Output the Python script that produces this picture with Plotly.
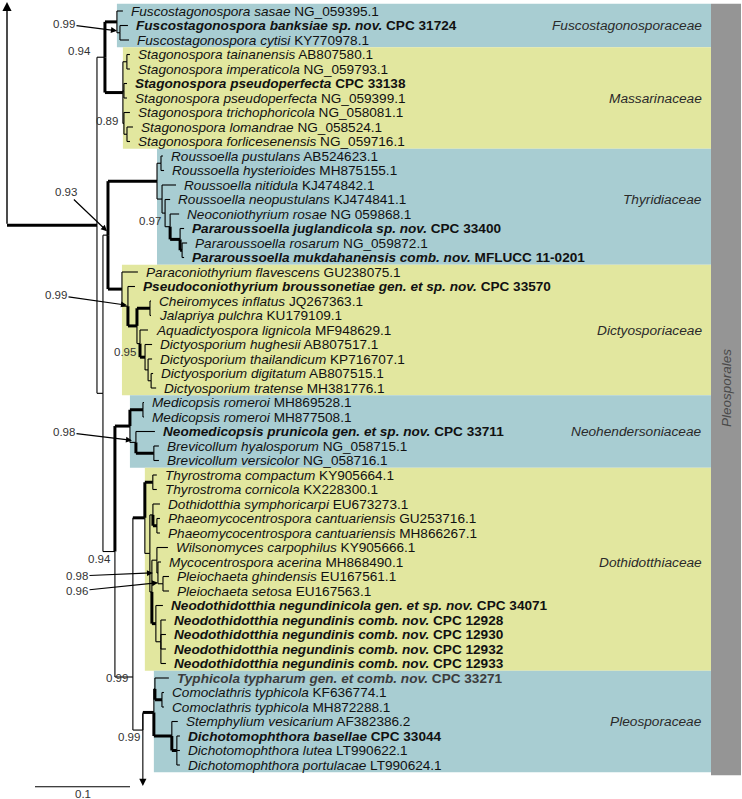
import re
import plotly.graph_objects as go

# ---------------- data ----------------
taxa_names = [
    "Fuscostagonospora sasae", "Fuscostagonospora banksiae sp. nov.", "Fuscostagonospora cytisi",
    "Stagonospora tainanensis", "Stagonospora imperaticola", "Stagonospora pseudoperfecta",
    "Stagonospora pseudoperfecta", "Stagonospora trichophoricola", "Stagonospora lomandrae",
    "Stagonospora forlicesenensis", "Roussoella pustulans", "Roussoella hysterioides",
    "Roussoella nitidula", "Roussoella neopustulans", "Neoconiothyrium rosae",
    "Pararoussoella juglandicola sp. nov.", "Pararoussoella rosarum",
    "Pararoussoella mukdahanensis comb. nov.", "Paraconiothyrium flavescens",
    "Pseudoconiothyrium broussonetiae gen. et sp. nov.", "Cheiromyces inflatus",
    "Jalapriya pulchra", "Aquadictyospora lignicola", "Dictyosporium hughesii",
    "Dictyosporium thailandicum", "Dictyosporium digitatum", "Dictyosporium tratense",
    "Medicopsis romeroi", "Medicopsis romeroi", "Neomedicopsis prunicola gen. et sp. nov.",
    "Brevicollum hyalosporum", "Brevicollum versicolor", "Thyrostroma compactum",
    "Thyrostroma cornicola", "Dothidotthia symphoricarpi", "Phaeomycocentrospora cantuariensis",
    "Phaeomycocentrospora cantuariensis", "Wilsonomyces carpophilus", "Mycocentrospora acerina",
    "Pleiochaeta ghindensis", "Pleiochaeta setosa",
    "Neodothidotthia negundinicola gen. et sp. nov.", "Neodothidotthia negundinis comb. nov.",
    "Neodothidotthia negundinis comb. nov.", "Neodothidotthia negundinis comb. nov.",
    "Neodothidotthia negundinis comb. nov.", "Typhicola typharum gen. et comb. nov.",
    "Comoclathris typhicola", "Comoclathris typhicola", "Stemphylium vesicarium",
    "Dichotomophthora basellae", "Dichotomophthora lutea", "Dichotomophthora portulacae",
]
taxa_accessions = [
    "NG_059395.1", "CPC 31724", "KY770978.1", "AB807580.1", "NG_059793.1", "CPC 33138",
    "NG_059399.1", "NG_058081.1", "NG_058524.1", "NG_059716.1", "AB524623.1", "MH875155.1",
    "KJ474842.1", "KJ474841.1", "NG 059868.1", "CPC 33400", "NG_059872.1", "MFLUCC 11-0201",
    "GU238075.1", "CPC 33570", "JQ267363.1", "KU179109.1", "MF948629.1", "AB807517.1",
    "KP716707.1", "AB807515.1", "MH381776.1", "MH869528.1", "MH877508.1", "CPC 33711",
    "NG_058715.1", "NG_058716.1", "KY905664.1", "KX228300.1", "EU673273.1", "GU253716.1",
    "MH866267.1", "KY905666.1", "MH868490.1", "EU167561.1", "EU167563.1", "CPC 34071",
    "CPC 12928", "CPC 12930", "CPC 12932", "CPC 12933", "CPC 33271", "KF636774.1",
    "MH872288.1", "AF382386.2", "CPC 33044", "LT990622.1", "LT990624.1",
]
novel_rows = [1, 5, 15, 17, 19, 29, 41, 42, 43, 44, 45, 46, 50]

# tree (Newick; tips tN = row N, branch lengths in substitutions/site)
newick = """
(
 (
  (t0:0.0063,(t1:0.0084,t2:0.0095)F1:0.0032)F0:0.0126,
  ((t3:0.0032,t4:0.0032)SA:0.0042,(t5:0.0032,t6:0.0032)SB:0.0011,
   (t7:0.0063,(t8:0.0063,t9:0.0032)SD:0.0032)SC:0.0011)S0:0.0189
 )FS:0.0084,
 (
  (
   ((t10:0.0021,t11:0.0032)TA:0.0042,
    (t12:0.0147,(t13:0.0053,(t14:0.0095,(t15:0.0042,(t16:0.0053,t17:0.0021)T5:0.0021)T4:0.0105)T3:0.0053)T2:0.0032)T1:0.0053
   )T0:0.0516,
   (t18:0.0168,(t19:0.0074,((t20:0.0011,t21:0.0011)DC:0.0137,
     (t22:0.0084,(t23:0.0074,(t24:0.0042,(t25:0.0021,t26:0.0053)D6:0.0032)D5:0.0032)D4:0.0053)D3:0.0032
    )D2:0.0095)D1:0.0063)D0:0.0147
  )N3:0.0053,
  (
   ((t27:0.0011,t28:0.0011)EM:0.0137,(t29:0.0200,(t30:0.0053,t31:0.0053)EB:0.0189)E1:0.0063)E0:0.0158,
   (
    ((t32:0.0042,t33:0.0042)GT:0.0084,
     ((t34:0.0074,(t35:0.0032,t36:0.0032)GP:0.0042)GD:0.0032,
      ((t37:0.0116,(t38:0.0032,(t39:0.0063,t40:0.0063)WP:0.0053)W1:0.0011)W0:0.0053,
       (t41:0.0074,(t42:0.0053,t43:0.0053,t44:0.0053,t45:0.0053)Nb:0.0053)Na:0.0042)H:0.0021
     )Gb:0.0053
    )G0:0.0126,
    (((t46:0.0147,(t47:0.0021,t48:0.0021)PC:0.0074)Pla:0.0011,
      (t49:0.0063,(t50:0.0032,t51:0.0032,t52:0.0032)PD:0.0053)Plb:0.0189)Pl0:0.0116)P:0.0105
   )Q:0.0189
  )N4:0.0126
 )N2:0.0063
)N1:0.0947;
"""

supports = {"FS": "0.94", "F1": "0.99", "SC": "0.89", "T2": "0.97", "N3": "0.93",
            "D1": "0.99", "D3": "0.95", "E1": "0.98", "N4": "0.94", "W1": "0.98",
            "WP": "0.96", "Q": "0.99", "P": "0.99"}
thick_nodes = ["F0", "S0", "T0", "T4", "T5", "D0", "D2", "DC", "D4", "E0", "EM", "EB",
               "G0", "GT", "GP", "Na", "Pl0", "PC", "Plb", "PD"]
node_row_override = {"Q": 45.93, "P": 49.59}

families = [  # name, first row, last row, clade node, label row, colour
    ("Fuscostagonosporaceae", 0, 2, "F0", 1, "blue"),
    ("Massarinaceae", 3, 9, "S0", 6, "yellow"),
    ("Thyridiaceae", 10, 17, "T0", 13, "blue"),
    ("Dictyosporiaceae", 18, 26, "D0", 22, "yellow"),
    ("Neohendersoniaceae", 27, 31, "E0", 29, "blue"),
    ("Dothidotthiaceae", 32, 45, "G0", 38, "yellow"),
    ("Pleosporaceae", 46, 52, "Pl0", 49, "blue"),
]
order_name = "Pleosporales"
scale_length = 0.1

# ---------------- layout helpers ----------------
W, H = 742, 799
PX_PER_UNIT = 950.0
PX_PER_ROW = 14.5
X0_PX, Y0_PX = 7.0, 11.0
def px2x(px): return (px - X0_PX) / PX_PER_UNIT
def px2r(py): return (py - Y0_PX) / PX_PER_ROW
dxp = 1.0 / PX_PER_UNIT
dyp = 1.0 / PX_PER_ROW

BLUE = "#a8cdd2"
YELLOW = "#e2e79f"
GREY = "#959595"
FONT = "Liberation Sans, Arial, sans-serif"
THIN, THICK = 1.1, 3.0

# ---------------- parse tree ----------------
def parse_newick(s):
    s = re.sub(r"\s+", "", s).rstrip(";")
    pos = 0
    def node():
        nonlocal pos
        n = {"children": [], "name": "", "bl": 0.0}
        if s[pos] == "(":
            pos += 1
            while True:
                n["children"].append(node())
                if s[pos] == ",":
                    pos += 1
                    continue
                pos += 1
                break
        m = re.match(r"[^:,();]*", s[pos:])
        n["name"] = m.group(0)
        pos += len(m.group(0))
        if pos < len(s) and s[pos] == ":":
            pos += 1
            m = re.match(r"[0-9.eE+-]+", s[pos:])
            n["bl"] = float(m.group(0))
            pos += len(m.group(0))
        return n
    return node()

root = parse_newick(newick)
nodes = {}
def layout(n, px):
    n["x"] = px + n["bl"]
    for c in n["children"]:
        layout(c, n["x"])
    if n["children"]:
        if n["name"] in node_row_override:
            n["y"] = node_row_override[n["name"]]
        else:
            n["y"] = (n["children"][0]["y"] + n["children"][-1]["y"]) / 2
    else:
        n["y"] = int(n["name"][1:])
    nodes[n["name"]] = n
layout(root, 0.0)

segs = {THIN: ([], []), THICK: ([], [])}
def add(w, xs, ys):
    segs[w][0].extend(xs + [None])
    segs[w][1].extend(ys + [None])
def draw(n):
    for c in n["children"]:
        w = THICK if c["name"] in thick_nodes else THIN
        wv = THIN if n["name"] in node_row_override else w
        add(wv, [n["x"], n["x"]], [n["y"], c["y"]])
        add(w, [n["x"], c["x"]], [c["y"], c["y"]])
        draw(c)
add(THICK, [0.0, root["x"]], [root["y"], root["y"]])
draw(root)

fig = go.Figure()
for w, (xs, ys) in segs.items():
    fig.add_trace(go.Scatter(x=xs, y=ys, mode="lines", line=dict(color="black", width=w),
                             hoverinfo="skip", showlegend=False))

# scale bar
sb_x0 = px2x(35)
fig.add_trace(go.Scatter(x=[sb_x0, sb_x0 + scale_length], y=[53.5, 53.5], mode="lines",
                         line=dict(color="black", width=1.1), hoverinfo="skip", showlegend=False))

shapes = []
annotations = []
box_right = px2x(711)
bar_right = px2x(741)
for name, r0, r1, node_name, lab_row, col in families:
    shapes.append(dict(type="rect", xref="x", yref="y", x0=nodes[node_name]["x"], x1=box_right,
                       y0=r0 - 0.5, y1=r1 + 0.5, fillcolor=BLUE if col == "blue" else YELLOW,
                       line=dict(width=0), layer="below"))
    annotations.append(dict(x=px2x(704), y=lab_row, xref="x", yref="y", text=f"<i>{name}</i>",
                            showarrow=False, xanchor="right", yanchor="middle",
                            font=dict(family=FONT, size=13.7, color="#2a2a2a")))
shapes.append(dict(type="rect", xref="x", yref="y", x0=box_right, x1=bar_right,
                   y0=families[0][1] - 0.5, y1=families[-1][2] + 0.7, fillcolor=GREY,
                   line=dict(width=0), layer="below"))
annotations.append(dict(x=(box_right + bar_right) / 2, y=(families[0][1] + families[-1][2]) / 2,
                        xref="x", yref="y", text=f"<i>{order_name}</i>", textangle=-90,
                        showarrow=False, font=dict(family=FONT, size=13.5, color="#4a4a4a")))

# tip labels
for i, (nm, acc) in enumerate(zip(taxa_names, taxa_accessions)):
    tip = nodes[f"t{i}"]
    if i in novel_rows:
        txt = f"<b><i>{nm}</i> {acc}</b>"
    else:
        txt = f"<i>{nm}</i> {acc}"
    col = "#3c3c3c" if nm.startswith("Typhicola") else "#111111"
    annotations.append(dict(x=tip["x"] + 7 * dxp, y=tip["y"], xref="x", yref="y", text=txt,
                            showarrow=False, xanchor="left", yanchor="middle", borderpad=0,
                            font=dict(family=FONT, size=13.6, color=col)))

# support labels without arrows: (node, dx px, dy px)
plain_labels = [("FS", -12, -6), ("SC", -4, -2), ("T2", -2, 8), ("D3", -2, 8),
                ("N4", -2, 7), ("Q", -3, 1), ("P", -1, 7)]
for nm, dx, dy in plain_labels:
    n = nodes[nm]
    annotations.append(dict(x=n["x"] + dx * dxp, y=n["y"] + dy * dyp, xref="x", yref="y",
                            text=supports[nm], showarrow=False, xanchor="right", yanchor="middle",
                            font=dict(family=FONT, size=11.5, color="#333333")))
# support labels with arrows: (node, text centre px, arrow tip offset px)
arrow_labels = [("F1", (64, 24), (-3, -2)), ("N3", (66, 192), (-1, -4)),
                ("D1", (56, 295), (-1, -1)), ("E1", (64, 432), (-4, -2)),
                ("W1", (77, 576), (-5, 0)), ("WP", (77, 591), (-5, -1))]
for nm, (tx, ty), (ox, oy) in arrow_labels:
    n = nodes[nm]
    annotations.append(dict(x=n["x"] + ox * dxp, y=n["y"] + oy * dyp, xref="x", yref="y",
                            ax=px2x(tx), ay=px2r(ty), axref="x", ayref="y", text=supports[nm],
                            showarrow=True, arrowhead=2, arrowsize=1, arrowwidth=1.2,
                            arrowcolor="black", standoff=0, xanchor="center", yanchor="middle",
                            font=dict(family=FONT, size=11.5, color="#333333")))

# continuation arrows (root upwards, bottom downwards)
annotations.append(dict(x=0.0, y=px2r(2), ax=0.0, ay=root["y"], xref="x", yref="y",
                        axref="x", ayref="y", text="", showarrow=True, arrowhead=2,
                        arrowsize=1.3, arrowwidth=1.4, arrowcolor="black", standoff=0))
pn = nodes["P"]
annotations.append(dict(x=pn["x"], y=px2r(786), ax=pn["x"], ay=nodes["Pl0"]["y"], xref="x",
                        yref="y", axref="x", ayref="y", text="", showarrow=True, arrowhead=2,
                        arrowsize=1.3, arrowwidth=1.1, arrowcolor="black", standoff=0))
# scale label
annotations.append(dict(x=sb_x0 + scale_length / 2, y=54.0, xref="x", yref="y", text="0.1",
                        showarrow=False, xanchor="center", yanchor="middle",
                        font=dict(family=FONT, size=11.5, color="#333333")))

fig.update_layout(
    width=W, height=H, margin=dict(l=0, r=0, t=0, b=0),
    paper_bgcolor="white", plot_bgcolor="white",
    xaxis=dict(range=[px2x(0), px2x(W)], visible=False, fixedrange=True),
    yaxis=dict(range=[px2r(H), px2r(0)], visible=False, fixedrange=True),
    shapes=shapes, annotations=annotations, showlegend=False,
)
fig.write_html("out.html", config={"displayModeBar": False},
               post_script="document.body.style.margin='0';")
